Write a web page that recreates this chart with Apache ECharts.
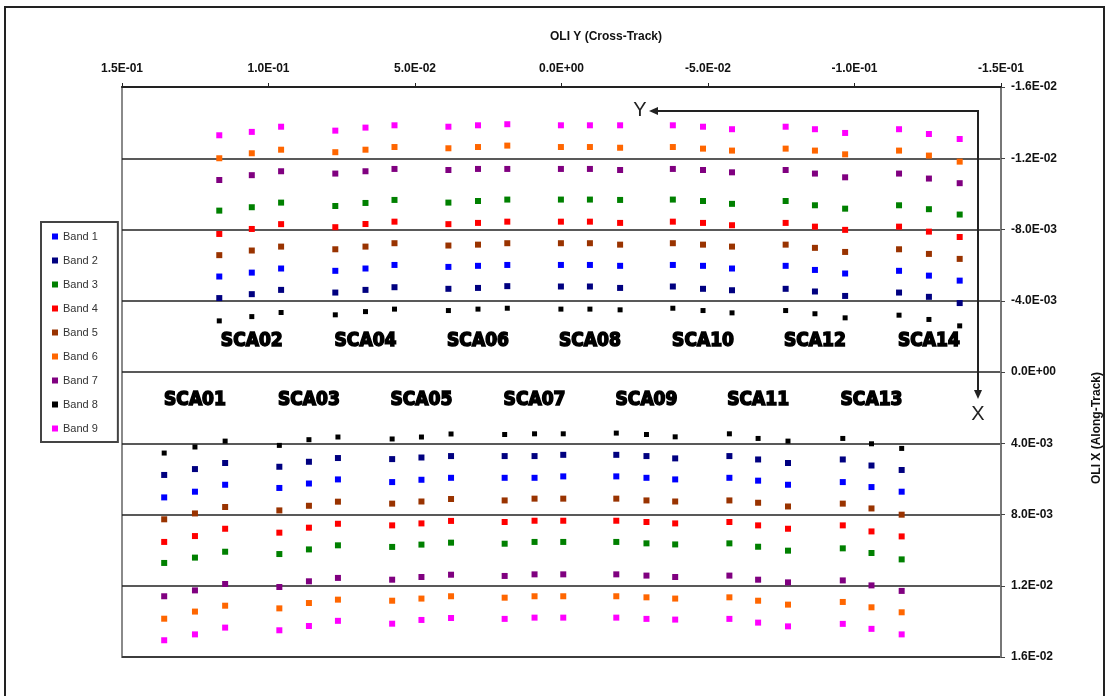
<!DOCTYPE html>
<html>
<head>
<meta charset="utf-8">
<script src="https://cdn.jsdelivr.net/npm/echarts@6/dist/echarts.min.js"></script>
<style>
  html, body { margin: 0; padding: 0; background: #fff; }
  #chart { width: 1109px; height: 696px; }
</style>
</head>
<body>
<div id="chart"></div>
<script>
// focal plane positions, units of 1e-3, 3 columns per SCA
const scaNames = ['SCA01', 'SCA02', 'SCA03', 'SCA04', 'SCA05', 'SCA06', 'SCA07',
  'SCA08', 'SCA09', 'SCA10', 'SCA11', 'SCA12', 'SCA13', 'SCA14']

// cross-track (OLI Y) of each column
const colX = [
  135.6, 125.1, 114.8,   116.8, 105.7, 95.7,   96.3, 86.2, 76.3,   77.2, 66.9, 57.0,
  57.8, 47.8, 37.7,      38.6, 28.5, 18.5,     19.4, 9.2, -0.6,    0.2, -9.7, -20.0,
  -18.7, -29.0, -38.8,   -38.0, -48.3, -58.2,  -57.3, -67.1, -77.3, -76.5, -86.5, -96.8,
  -96.0, -105.8, -116.1, -115.2, -125.4, -135.9
]

// along-track (OLI X) per band, same column order
const band1 = [7.04, 6.72, 6.33, -5.36, -5.58, -5.81, 6.51, 6.26, 6.03, -5.68, -5.81, -6.01,
  6.18, 6.05, 5.94, -5.90, -5.96, -6.01, 5.94, 5.94, 5.86, -6.01, -6.01, -5.96,
  5.86, 5.94, 6.03, -6.01, -5.96, -5.81, 5.94, 6.10, 6.33, -5.96, -5.73, -5.53,
  6.18, 6.46, 6.72, -5.68, -5.41, -5.13]
const band2 = [5.78, 5.45, 5.11, -4.15, -4.37, -4.61, 5.32, 5.04, 4.83, -4.46, -4.61, -4.76,
  4.89, 4.80, 4.72, -4.67, -4.72, -4.82, 4.72, 4.72, 4.65, -4.80, -4.80, -4.72,
  4.65, 4.72, 4.85, -4.80, -4.67, -4.59, 4.72, 4.91, 5.11, -4.67, -4.52, -4.27,
  4.91, 5.25, 5.50, -4.46, -4.22, -3.87]
const band3 = [10.72, 10.42, 10.09, -9.06, -9.25, -9.51, 10.22, 9.96, 9.73, -9.32, -9.49, -9.66,
  9.82, 9.69, 9.58, -9.51, -9.60, -9.68, 9.64, 9.54, 9.54, -9.68, -9.68, -9.66,
  9.54, 9.62, 9.68, -9.68, -9.60, -9.44, 9.62, 9.81, 10.03, -9.60, -9.36, -9.17,
  9.90, 10.16, 10.52, -9.36, -9.14, -8.84]
const band4 = [9.54, 9.21, 8.80, -7.75, -8.03, -8.30, 9.02, 8.74, 8.52, -8.13, -8.31, -8.44,
  8.61, 8.50, 8.36, -8.30, -8.37, -8.44, 8.42, 8.35, 8.35, -8.44, -8.44, -8.37,
  8.35, 8.42, 8.50, -8.44, -8.37, -8.24, 8.42, 8.61, 8.80, -8.37, -8.16, -7.98,
  8.61, 8.95, 9.23, -8.16, -7.88, -7.58]
const band5 = [8.27, 7.94, 7.58, -6.56, -6.82, -7.04, 7.77, 7.51, 7.28, -6.89, -7.04, -7.23,
  7.39, 7.27, 7.13, -7.10, -7.15, -7.23, 7.21, 7.11, 7.11, -7.23, -7.23, -7.15,
  7.11, 7.21, 7.27, -7.23, -7.15, -7.04, 7.21, 7.34, 7.55, -7.15, -6.97, -6.74,
  7.39, 7.66, 8.01, -6.89, -6.63, -6.35]
const band6 = [13.85, 13.45, 13.12, -12.00, -12.28, -12.48, 13.27, 12.97, 12.78, -12.34, -12.48, -12.63,
  12.84, 12.72, 12.59, -12.56, -12.63, -12.71, 12.67, 12.59, 12.59, -12.63, -12.63, -12.59,
  12.59, 12.65, 12.72, -12.63, -12.54, -12.43, 12.65, 12.84, 13.06, -12.54, -12.43, -12.22,
  12.91, 13.21, 13.49, -12.43, -12.15, -11.81]
const band7 = [12.59, 12.26, 11.90, -10.78, -11.05, -11.27, 12.07, 11.75, 11.56, -11.14, -11.27, -11.40,
  11.66, 11.51, 11.38, -11.34, -11.40, -11.40, 11.45, 11.36, 11.36, -11.40, -11.40, -11.34,
  11.36, 11.43, 11.51, -11.40, -11.34, -11.21, 11.43, 11.66, 11.81, -11.34, -11.14, -10.93,
  11.70, 11.98, 12.29, -11.14, -10.86, -10.60]
const band8 = [4.55, 4.21, 3.88, -2.87, -3.11, -3.34, 4.12, 3.80, 3.65, -3.21, -3.39, -3.53,
  3.76, 3.65, 3.48, -3.45, -3.53, -3.58, 3.51, 3.47, 3.47, -3.53, -3.53, -3.49,
  3.43, 3.51, 3.64, -3.58, -3.45, -3.32, 3.47, 3.73, 3.88, -3.45, -3.27, -3.04,
  3.73, 4.03, 4.29, -3.19, -2.95, -2.59]
const band9 = [15.06, 14.73, 14.35, -13.29, -13.48, -13.77, 14.50, 14.26, 13.97, -13.55, -13.72, -13.85,
  14.13, 13.92, 13.81, -13.77, -13.85, -13.91, 13.86, 13.79, 13.79, -13.85, -13.85, -13.85,
  13.79, 13.86, 13.90, -13.85, -13.77, -13.63, 13.86, 14.07, 14.28, -13.77, -13.63, -13.42,
  14.14, 14.42, 14.73, -13.63, -13.36, -13.08]

const bands = [band1, band2, band3, band4, band5, band6, band7, band8, band9]
const bandColors = ['#0000ff', '#000080', '#008000', '#ff0000', '#993300', '#ff6600', '#800080', '#000000', '#ff00ff']

// E-notation like Excel: 1.5E-01
function sci (v) {
  if (Math.abs(v) < 1e-9) return '0.0E+00'
  const parts = v.toExponential(1).split('e')
  const e = parseInt(parts[1], 10)
  const d = Math.abs(e)
  return parts[0] + 'E' + (e < 0 ? '-' : '+') + (d < 10 ? '0' : '') + d
}

const labelFont = 'Liberation Sans, Arial, sans-serif'

const series = bands.map((b, i) => {
  return {
    name: 'Band ' + (i + 1),
    type: 'scatter',
    symbol: 'rect',
    symbolSize: i === 7 ? 5 : 6,
    itemStyle: { color: bandColors[i], opacity: 1 },
    data: b.map((y, j) => [colX[j] / 1000, y / 1000])
  }
})

// SCA names under / over their middle column
series.push({
  name: 'sca',
  type: 'scatter',
  symbolSize: 0,
  silent: true,
  itemStyle: { opacity: 1 },
  label: {
    show: true,
    position: 'inside',
    formatter: p => p.data[2],
    fontFamily: 'DejaVu Sans Condensed, Liberation Sans Narrow, Liberation Sans, sans-serif',
    fontWeight: 'bold',
    fontSize: 19,
    color: '#000',
    textBorderColor: '#000',
    textBorderWidth: 1.5
  },
  data: scaNames.map((n, k) => [colX[k * 3 + 1] / 1000, (k % 2 === 0 ? 1.56 : -1.75) / 1000, n])
})

const chart = echarts.init(document.getElementById('chart'))
chart.setOption({
  animation: false,
  backgroundColor: '#fff',
  grid: {
    left: 122,
    right: 108,
    top: 87,
    bottom: 39,
    show: true,
    borderColor: '#8a8a8a',
    borderWidth: 2
  },
  legend: {
    orient: 'vertical',
    left: 41,
    top: 222,
    data: bands.map((b, i) => 'Band ' + (i + 1)),
    icon: 'rect',
    itemWidth: 6,
    itemHeight: 6,
    itemGap: 13,
    padding: [9, 20, 8, 11],
    backgroundColor: '#fff',
    borderColor: '#444',
    borderWidth: 2,
    textStyle: { fontFamily: labelFont, fontSize: 11, color: '#333' }
  },
  xAxis: {
    type: 'value',
    position: 'top',
    inverse: true,
    min: -0.15,
    max: 0.15,
    interval: 0.05,
    axisLine: { show: true, onZero: false, lineStyle: { color: '#222', width: 2 } },
    axisTick: { show: true, length: 4, lineStyle: { color: '#222' } },
    splitLine: { show: false },
    axisLabel: {
      margin: 12,
      formatter: sci,
      fontFamily: labelFont,
      fontWeight: 'bold',
      fontSize: 12,
      color: '#111'
    }
  },
  yAxis: {
    type: 'value',
    position: 'right',
    inverse: true,
    min: -0.016,
    max: 0.016,
    interval: 0.004,
    axisLine: { show: true, onZero: false, lineStyle: { color: '#777', width: 2 } },
    axisTick: { show: true, length: 4, lineStyle: { color: '#444' } },
    splitLine: { show: true, lineStyle: { color: '#222', width: 1.5 } },
    axisLabel: {
      margin: 10,
      formatter: sci,
      fontFamily: labelFont,
      fontWeight: 'bold',
      fontSize: 12,
      color: '#111'
    }
  },
  graphic: [
    // outer frame
    { type: 'rect', shape: { x: 5, y: 7, width: 1099, height: 700 }, style: { fill: 'none', stroke: '#222', lineWidth: 2 }, silent: true },
    // axis titles
    { type: 'text', x: 606, y: 37, style: { text: 'OLI Y (Cross-Track)', font: 'bold 12px ' + labelFont, fill: '#111', textAlign: 'center', textVerticalAlign: 'middle' } },
    { type: 'text', x: 1097, y: 428, rotation: Math.PI / 2, style: { text: 'OLI X (Along-Track)', font: 'bold 12px ' + labelFont, fill: '#111', textAlign: 'center', textVerticalAlign: 'middle' } },
    // Y / X direction arrows
    { type: 'polyline', shape: { points: [[656, 111], [978, 111], [978, 392]] }, style: { stroke: '#222', lineWidth: 2, fill: 'none' }, z: 10 },
    { type: 'polygon', shape: { points: [[649, 111], [658, 107], [658, 115]] }, style: { fill: '#222' }, z: 10 },
    { type: 'polygon', shape: { points: [[978, 399], [974, 390], [982, 390]] }, style: { fill: '#222' }, z: 10 },
    { type: 'text', x: 640, y: 110, style: { text: 'Y', font: '20px ' + labelFont, fill: '#222', textAlign: 'center', textVerticalAlign: 'middle' }, z: 10 },
    { type: 'text', x: 978, y: 414, style: { text: 'X', font: '20px ' + labelFont, fill: '#222', textAlign: 'center', textVerticalAlign: 'middle' }, z: 10 }
  ],
  series: series
})
</script>
</body>
</html>
